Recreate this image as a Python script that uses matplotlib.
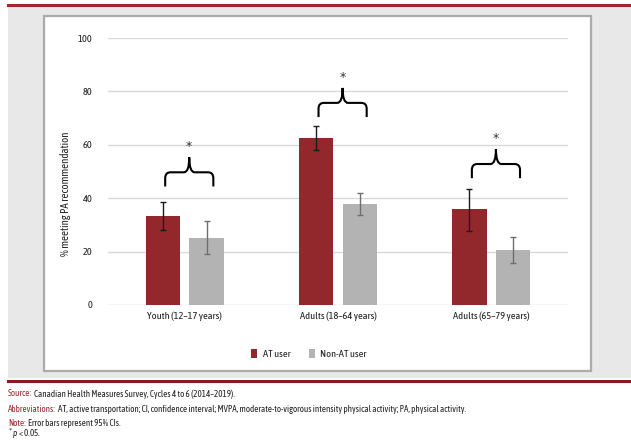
import numpy as np
import matplotlib
matplotlib.use("Agg")
import matplotlib.pyplot as plt
from matplotlib.patches import Rectangle, PathPatch
from matplotlib.path import Path

plt.rcParams['font.family'] = ['Asap Condensed', 'DejaVu Sans']
plt.rcParams['mathtext.fontset'] = 'custom'
plt.rcParams['mathtext.it'] = 'Asap Condensed:italic'

# data
groups = ["Youth (12\u201317 years)", "Adults (18\u201364 years)", "Adults (65\u201379 years)"]
at_user = [33.5, 62.5, 35.9]
at_lo = [28.1, 58.1, 27.9]
at_hi = [38.7, 66.9, 43.4]
non_at = [25.2, 37.8, 20.6]
non_lo = [19.1, 33.6, 15.9]
non_hi = [31.4, 41.9, 25.4]
brace_bottom = [44.4, 70.4, 47.5]   # y where brace arms end
yticks = [0, 20, 40, 60, 80, 100]

red = '#93282c'
grey = '#b3b3b3'
dark = '#231f20'

fig = plt.figure(figsize=(6.31, 4.46), dpi=100)

# page decoration: grey panel, white chart box, red rules
fig.patches.append(Rectangle((8/631, 1-378/446), 623/631, 372/446, transform=fig.transFigure,
                             facecolor='#e8e8e8', edgecolor='none', zorder=0))
fig.patches.append(Rectangle((44/631, 1-371/446), 547/631, 355/446, transform=fig.transFigure,
                             facecolor='white', edgecolor='#ababab', linewidth=1.6, zorder=1))
fig.add_artist(plt.Line2D([8/631, 1], [1-4.5/446]*2, color='#a0282c', lw=2.2, transform=fig.transFigure))
fig.add_artist(plt.Line2D([8/631, 1], [1-381/446]*2, color='#8b1a1e', lw=2.2, transform=fig.transFigure))

ax = fig.add_axes([108/631, 1-305/446, 460/631, 267/446])
ax.set_zorder(3)
ax.set_facecolor('none')
x = np.arange(len(groups))
w = 0.225
off = 0.1425

at_err = [np.array(at_user) - np.array(at_lo), np.array(at_hi) - np.array(at_user)]
non_err = [np.array(non_at) - np.array(non_lo), np.array(non_hi) - np.array(non_at)]
ax.bar(x - off, at_user, w, color=red, label='AT user', zorder=3)
ax.bar(x + off, non_at, w, color=grey, label='Non-AT user', zorder=3)
ax.errorbar(x - off, at_user, yerr=at_err, fmt='none', ecolor='#1a1a1a', elinewidth=1, capsize=2.5, capthick=1, zorder=4)
ax.errorbar(x + off, non_at, yerr=non_err, fmt='none', ecolor='#6e6e6e', elinewidth=1, capsize=2.5, capthick=1, zorder=4)

ax.set_xlim(-0.5, 2.5)
ax.set_ylim(0, 100)
ax.set_yticks(yticks)
ax.grid(axis='y', color='#d9d9d9', lw=1)
ax.set_axisbelow(True)
for s in ax.spines.values():
    s.set_visible(False)
ax.tick_params(length=0, labelsize=7.5, colors=dark)
ax.tick_params(axis='y', pad=11)
ax.tick_params(axis='x', pad=5)
ax.set_xticks(x)
ax.set_xticklabels(groups, fontsize=7.5, color=dark)
ax.set_ylabel('% meeting PA recommendation', fontsize=7.8, color=dark)
ax.yaxis.set_label_coords(-0.08, 0.416)

# significance braces
rx, ry = 0.035, 2.2
for i in range(len(groups)):
    xm = x[i] + 0.03
    x0, x1 = xm - 0.157, xm + 0.157
    yb = brace_bottom[i]
    yh = yb + 5.3
    yt = yh + 5.6
    verts = [(x0, yb), (x0, yh - ry), (x0, yh), (x0 + rx, yh), (xm - rx, yh), (xm, yh), (xm, yt),
             (xm, yh), (xm + rx, yh), (x1 - rx, yh), (x1, yh), (x1, yh - ry), (x1, yb)]
    codes = [Path.MOVETO, Path.LINETO, Path.CURVE3, Path.CURVE3, Path.LINETO, Path.CURVE3, Path.CURVE3,
             Path.CURVE3, Path.CURVE3, Path.LINETO, Path.CURVE3, Path.CURVE3, Path.LINETO]
    ax.add_patch(PathPatch(Path(verts, codes), facecolor='none', edgecolor='black', lw=1.5,
                           clip_on=False, zorder=5))
    ax.text(xm, yt + 4.0, '*', ha='center', va='center', fontsize=9, color='#333333',
            family='DejaVu Sans')

leg = ax.legend(loc='upper center', bbox_to_anchor=(0.437, -0.13), ncol=2, frameon=False,
                fontsize=7.5, handlelength=0.6, handleheight=1.0, columnspacing=1.8, handletextpad=0.5)
for t in leg.get_texts():
    t.set_color(dark)

# footnotes
def foot(y, head, body):
    t = fig.text(8/631, 1-y/446, head, fontsize=6.5, color='#a0282c', va='center', ha='left')
    fig.canvas.draw()
    bb = t.get_window_extent()
    fig.text(bb.x1/631 + 2/631, 1-y/446, body, fontsize=6.5, color=dark, va='center', ha='left')

foot(394, 'Source:', 'Canadian Health Measures Survey, Cycles 4 to 6 (2014\u20132019).')
foot(410, 'Abbreviations:', 'AT, active transportation; CI, confidence interval; MVPA, moderate-to-vigorous intensity physical activity; PA, physical activity.')
foot(423, 'Note:', 'Error bars represent 95% CIs.')
fig.text(8/631, 1-434/446, r'$^{*}$ $p$ < 0.05.', fontsize=6.5, color=dark, va='center', ha='left')

fig.savefig('out.png', dpi=100)
